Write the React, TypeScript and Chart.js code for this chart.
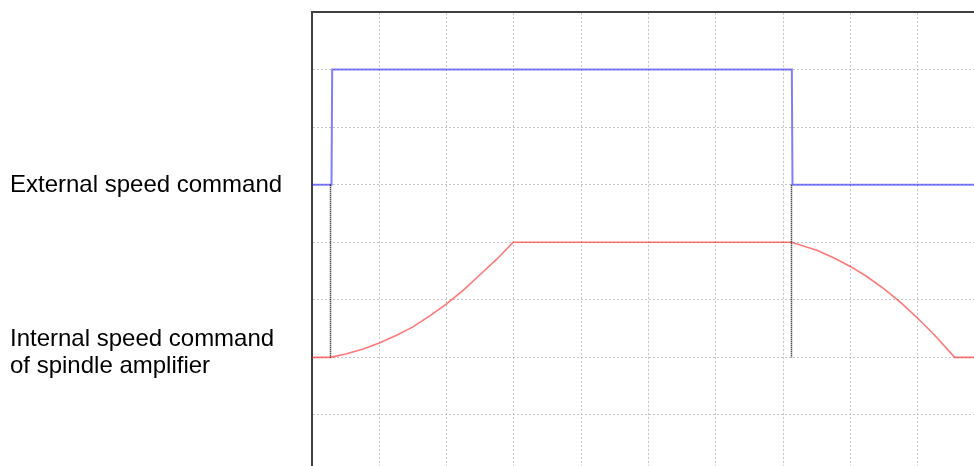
import React, { useEffect, useRef } from "react";
import { Chart, registerables } from "chart.js";

Chart.register(...registerables);

// Time axis in grid divisions, level axis in grid divisions
const externalX = [0, 0.29, 0.3, 7.13, 7.14, 9.84];
const externalY = [5, 5, 7, 7, 5, 5];

const internalX = [
  0, 0.275, 0.5, 0.75, 1.0, 1.25, 1.5, 1.75, 2.0, 2.25, 2.5, 2.75, 2.99,
  7.125, 7.5, 7.75, 8.0, 8.25, 8.5, 8.75, 9.0, 9.25, 9.55, 9.84,
];
const internalY = [
  2, 2, 2.06, 2.14, 2.25, 2.38, 2.53, 2.72, 2.93, 3.17, 3.44, 3.71, 4,
  4, 3.86, 3.73, 3.58, 3.4, 3.19, 2.95, 2.68, 2.39, 2, 2,
];

const startMarkerX = [0.2749, 0.2749];
const startMarkerY = [5, 2];
const stopMarkerX = [7.125, 7.125];
const stopMarkerY = [5, 2];

const xGridTicks = [0, 1, 2, 3, 4, 5, 6, 7, 8, 9];
const yGridTicks = [1, 2, 3, 4, 5, 6, 7, 8];

const X_MIN = 0;
const X_MAX = 9.837;
const Y_MIN = 0.113;
const Y_MAX = 8;

const rowLabelTop = "External speed command";
const rowLabelBottom = ["Internal speed command", "of spindle amplifier"];

const toPoints = (xs: number[], ys: number[]) => xs.map((x, i) => ({ x, y: ys[i] }));

export default function App() {
  const canvasRef = useRef<HTMLCanvasElement | null>(null);

  useEffect(() => {
    const canvas = canvasRef.current;
    if (!canvas) return;
    const chart = new Chart(canvas, {
      type: "scatter",
      data: {
        datasets: [
          {
            label: "start",
            data: toPoints(startMarkerX, startMarkerY),
            showLine: true,
            borderColor: "#000000",
            borderWidth: 1.5,
            borderDash: [1, 1],
            pointRadius: 0,
          },
          {
            label: "stop",
            data: toPoints(stopMarkerX, stopMarkerY),
            showLine: true,
            borderColor: "#000000",
            borderWidth: 1.5,
            borderDash: [1, 1],
            pointRadius: 0,
          },
          {
            label: rowLabelTop,
            data: toPoints(externalX, externalY),
            showLine: true,
            borderColor: "rgba(40,40,255,0.6)",
            borderWidth: 2,
            pointRadius: 0,
            tension: 0,
          },
          {
            label: rowLabelBottom.join(" "),
            data: toPoints(internalX, internalY),
            showLine: true,
            borderColor: "rgba(255,30,30,0.6)",
            borderWidth: 1.6,
            pointRadius: 0,
            tension: 0,
          },
        ],
      },
      options: {
        animation: false,
        responsive: false,
        devicePixelRatio: 1,
        layout: { padding: { left: 312, top: 12, right: 0, bottom: 0 } },
        plugins: { legend: { display: false }, tooltip: { enabled: false } },
        scales: {
          x: {
            type: "linear",
            position: "top",
            min: X_MIN,
            max: X_MAX,
            afterBuildTicks: (s: any) => {
              s.ticks = xGridTicks.map((v) => ({ value: v }));
            },
            ticks: { display: false },
            grid: { color: "#c6c6c6", lineWidth: 1, drawTicks: false },
            border: { display: true, color: "#404040", width: 2, dash: [2, 2] },
          },
          y: {
            type: "linear",
            position: "left",
            min: Y_MIN,
            max: Y_MAX,
            afterBuildTicks: (s: any) => {
              s.ticks = yGridTicks.map((v) => ({ value: v }));
            },
            ticks: { display: false },
            grid: { color: "#c6c6c6", lineWidth: 1, drawTicks: false },
            border: { display: true, color: "#404040", width: 2, dash: [2, 2] },
          },
        },
      },
    });
    return () => chart.destroy();
  }, []);

  const labelStyle: React.CSSProperties = {
    position: "absolute",
    left: 10,
    fontFamily: "'Liberation Sans', Arial, sans-serif",
    fontSize: 24,
    color: "#000",
    whiteSpace: "nowrap",
  };

  return (
    <div style={{ position: "fixed", left: 0, top: 0, width: 974, height: 466, background: "#fff", overflow: "hidden" }}>
      <canvas ref={canvasRef} width={974} height={466} style={{ position: "absolute", left: 0, top: 0, width: 974, height: 466 }} />
      <div style={{ ...labelStyle, top: 170, lineHeight: "28px" }}>{rowLabelTop}</div>
      <div style={{ ...labelStyle, top: 325, lineHeight: "26.6px" }}>
        {rowLabelBottom.map((l) => (
          <div key={l}>{l}</div>
        ))}
      </div>
    </div>
  );
}
